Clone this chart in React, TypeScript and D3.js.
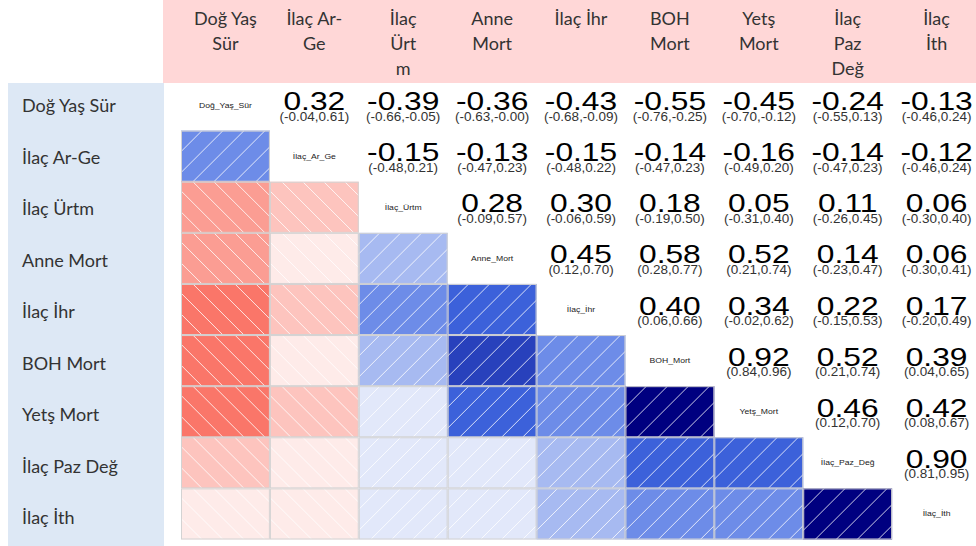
import { useEffect, useRef } from 'react';
import * as d3 from 'd3';

// variables (row / column order)
const vars = [
  'Doğ Yaş Sür',
  'İlaç Ar-Ge',
  'İlaç Ürtm',
  'Anne Mort',
  'İlaç İhr',
  'BOH Mort',
  'Yetş Mort',
  'İlaç Paz Değ',
  'İlaç İth',
];

// header text as it wraps in the table
const headerLines = [
  ['Doğ Yaş', 'Sür'],
  ['İlaç Ar-', 'Ge'],
  ['İlaç', 'Ürt', 'm'],
  ['Anne', 'Mort'],
  ['İlaç İhr'],
  ['BOH', 'Mort'],
  ['Yetş', 'Mort'],
  ['İlaç', 'Paz', 'Değ'],
  ['İlaç', 'İth'],
];

// labels printed on the diagonal
const diagLabels = [
  'Doğ_Yaş_Sür',
  'İlaç_Ar_Ge',
  'İlaç_Ürtm',
  'Anne_Mort',
  'İlaç_İhr',
  'BOH_Mort',
  'Yetş_Mort',
  'İlaç_Paz_Değ',
  'İlaç_İth',
];

// upper triangle, row i holds correlations with vars i+1..8
const corrRows = [
  [0.32, -0.39, -0.36, -0.43, -0.55, -0.45, -0.24, -0.13],
  [-0.15, -0.13, -0.15, -0.14, -0.16, -0.14, -0.12],
  [0.28, 0.3, 0.18, 0.05, 0.11, 0.06],
  [0.45, 0.58, 0.52, 0.14, 0.06],
  [0.4, 0.34, 0.22, 0.17],
  [0.92, 0.52, 0.39],
  [0.46, 0.42],
  [0.9],
];

const ciLow = [
  [-0.04, -0.66, -0.63, -0.68, -0.76, -0.7, -0.55, -0.46],
  [-0.48, -0.47, -0.48, -0.47, -0.49, -0.47, -0.46],
  [-0.09, -0.06, -0.19, -0.31, -0.26, -0.3],
  [0.12, 0.28, 0.21, -0.23, -0.3],
  [0.06, -0.02, -0.15, -0.2],
  [0.84, 0.21, 0.04],
  [0.12, 0.08],
  [0.81],
];

const ciHigh = [
  [0.61, -0.05, -0.0, -0.09, -0.25, -0.12, 0.13, 0.24],
  [0.21, 0.23, 0.22, 0.23, 0.2, 0.23, 0.24],
  [0.57, 0.59, 0.5, 0.4, 0.45, 0.4],
  [0.7, 0.77, 0.74, 0.47, 0.41],
  [0.66, 0.62, 0.53, 0.49],
  [0.96, 0.74, 0.65],
  [0.7, 0.67],
  [0.95],
];

const rampColors = ['red', 'salmon', 'white', 'royalblue', 'navy'];
const nShades = 14;

const fmt = (v: number) =>
  (v < 0 || Object.is(v, -0) ? '-' : '') + Math.abs(v).toFixed(2);

const Corrgram = () => {
  const svgRef = useRef<SVGSVGElement | null>(null);

  useEffect(() => {
    if (!svgRef.current) return;
    const width = 976;
    const height = 546;

    const svg = d3.select(svgRef.current).attr('width', width).attr('height', height);
    svg.selectAll('*').remove();

    const x = d3.scaleBand().domain(vars).range([181, 981]);
    const y = d3.scaleBand().domain(vars).range([79.5, 539.5]);
    const labelY = d3.scalePoint().domain(vars).range([112, 524]);

    const ramp = d3.piecewise(d3.interpolateRgb, rampColors);
    const shade = (r: number) => {
      const idx = Math.min(nShades - 1, Math.floor(((r + 1) / 2) * nShades));
      return ramp(idx / (nShades - 1));
    };

    const plotFont = '"Liberation Sans", Arial, sans-serif';
    // the chart image is a bit wider than tall, so its text is stretched
    const stretched = (
      cx: number,
      cy: number,
      str: string,
      size: number,
      sx: number,
      fill: string
    ) =>
      svg.append('text')
        .attr('transform', `translate(${cx},${cy}) scale(${sx},1)`)
        .attr('text-anchor', 'middle')
        .style('font-family', plotFont).style('font-size', `${size}px`)
        .attr('fill', fill)
        .text(str);

    // header band and row label band
    svg.append('rect').attr('x', 163).attr('y', 0).attr('width', width - 163).attr('height', 83)
      .attr('fill', '#ffd7d7');
    svg.append('rect').attr('x', 8).attr('y', 83).attr('width', 156).attr('height', height - 83)
      .attr('fill', '#dde8f5');

    const headerFont = 'Lato, "Open Sans", sans-serif';

    headerLines.forEach((lines, i) => {
      const cx = x(vars[i])! + x.bandwidth() / 2;
      lines.forEach((line, k) => {
        svg.append('text')
          .attr('x', cx).attr('y', 25 + k * 25)
          .attr('text-anchor', 'middle')
          .style('font-family', headerFont).style('font-size', '18px')
          .attr('fill', '#333')
          .text(line);
      });
    });

    vars.forEach((v) => {
      svg.append('text')
        .attr('x', 22).attr('y', labelY(v)!)
        .style('font-family', headerFont).style('font-size', '18px')
        .attr('fill', '#333')
        .text(v);
    });

    const defs = svg.append('defs');
    const bw = x.bandwidth();
    const bh = y.bandwidth();
    const step = 21;

    // lower triangle: shaded cells with hatching
    corrRows.forEach((row, i) => {
      row.forEach((r, k) => {
        const j = i + k + 1;
        const cx0 = x(vars[i])!;
        const cy0 = y(vars[j])!;
        const id = `clip-${j}-${i}`;
        defs.append('clipPath').attr('id', id)
          .append('rect').attr('x', cx0).attr('y', cy0).attr('width', bw).attr('height', bh);
        const g = svg.append('g');
        g.append('rect').attr('x', cx0).attr('y', cy0).attr('width', bw).attr('height', bh)
          .attr('fill', shade(r));
        const hatch = g.append('g').attr('clip-path', `url(#${id})`);
        for (let s = cx0 - bh; s < cx0 + bw + step; s += step) {
          if (r > 0) {
            hatch.append('line')
              .attr('x1', s).attr('y1', cy0 + bh).attr('x2', s + bh).attr('y2', cy0);
          } else {
            hatch.append('line')
              .attr('x1', s).attr('y1', cy0).attr('x2', s + bh).attr('y2', cy0 + bh);
          }
        }
        hatch.selectAll('line').attr('stroke', 'white').attr('stroke-width', 1)
          .attr('stroke-opacity', 0.8);
        g.append('rect').attr('x', cx0 + 0.5).attr('y', cy0 + 0.5)
          .attr('width', bw - 1).attr('height', bh - 1)
          .attr('fill', 'none').attr('stroke', 'lightgray').attr('stroke-width', 1);
      });
    });

    // diagonal names
    diagLabels.forEach((lab, i) => {
      stretched(x(vars[i])! + bw / 2, y(vars[i])! + bh / 2 + 2.5, lab, 7.5, 1.15, '#222');
    });

    // upper triangle: coefficient and confidence interval
    corrRows.forEach((row, i) => {
      row.forEach((r, k) => {
        const j = i + k + 1;
        const cx = x(vars[j])! + bw / 2;
        const cy = y(vars[i])! + bh / 2;
        stretched(cx, cy + 5, r.toFixed(2), 25, 1.27, '#000');
        stretched(cx, cy + 15.5, `(${fmt(ciLow[i][k])},${fmt(ciHigh[i][k])})`, 12.5, 1.08, '#333');
      });
    });
  }, []);

  return <svg ref={svgRef} style={{ display: 'block' }} />;
};

export default function App() {
  useEffect(() => {
    document.body.style.margin = '0';
    document.body.style.overflow = 'hidden';
  }, []);
  return (
    <div style={{ position: 'absolute', left: 0, top: 0, width: 976, height: 546, overflow: 'hidden' }}>
      <Corrgram />
    </div>
  );
}
